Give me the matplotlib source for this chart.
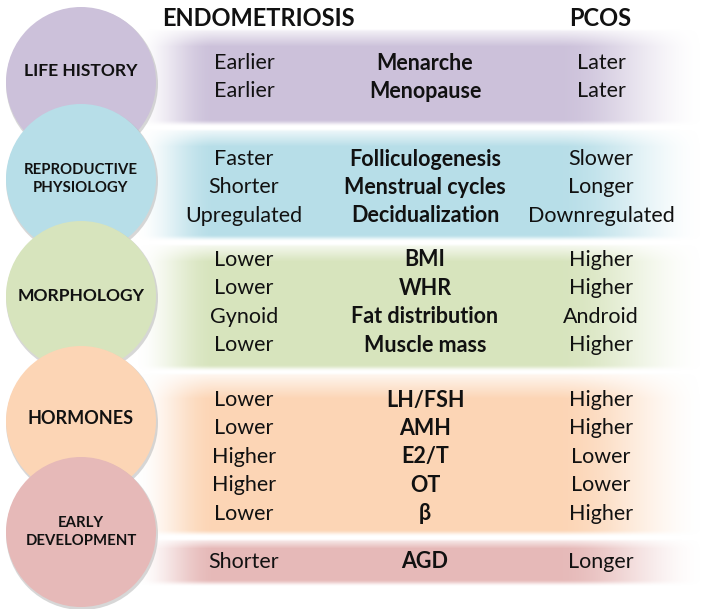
import numpy as np
import matplotlib
matplotlib.use("Agg")
import matplotlib.pyplot as plt
from matplotlib.patches import Circle

plt.rcParams['font.family'] = ['Lato', 'DejaVu Sans']

# data
groups = ["LIFE HISTORY", "REPRODUCTIVE\nPHYSIOLOGY", "MORPHOLOGY", "HORMONES", "EARLY\nDEVELOPMENT"]
traits = [
    ["Menarche", "Menopause"],
    ["Folliculogenesis", "Menstrual cycles", "Decidualization"],
    ["BMI", "WHR", "Fat distribution", "Muscle mass"],
    ["LH/FSH", "AMH", "E2/T", "OT", "β"],
    ["AGD"],
]
endo = [
    ["Earlier", "Earlier"],
    ["Faster", "Shorter", "Upregulated"],
    ["Lower", "Lower", "Gynoid", "Lower"],
    ["Lower", "Lower", "Higher", "Higher", "Lower"],
    ["Shorter"],
]
pcos = [
    ["Later", "Later"],
    ["Slower", "Longer", "Downregulated"],
    ["Higher", "Higher", "Android", "Higher"],
    ["Higher", "Higher", "Lower", "Lower", "Higher"],
    ["Longer"],
]
colors = ["#CCC1DA", "#B7DEE8", "#D7E4BD", "#FCD5B5", "#E6B9B8"]

# layout (pixels)
W, H = 709, 609
circle_y = [82, 179, 296, 421, 532]
label_y = [71, 179, 296, 418, 532]
label_size = [12.6, 10.7, 12.6, 13.0, 10.7]
circle_x, radius = 81, 75
bands = [(28, 126), (128, 241), (243, 371), (372, 536), (538, 586)]
band_fade_top = [18, 18, 18, 26, 10]
first_row = [63, 159, 260, 400, 562]
row_step = 28.4
col_endo, col_trait, col_pcos = 244, 425, 601

fig = plt.figure(figsize=(W / 100, H / 100), dpi=100)
ax = fig.add_axes([0, 0, 1, 1])


def ramp(t):
    t = np.clip(t, 0, 1)
    return t * t * (3 - 2 * t)


def band_image(y0, y1, color, top_fade, x0=135, x1=705):
    xs = np.arange(x0, x1)
    ys = np.arange(y0, y1)
    hx = ramp((xs - x0) / 80.0) * ramp((x1 - xs) / 150.0)
    vy = (0.15 + 0.85 * np.clip((ys - y0) / top_fade, 0, 1)) * ramp((ys - y0) / 3.0)
    vy = vy * ramp((y1 - ys) / 7.0)
    alpha = np.outer(vy, hx)
    rgb = np.array(matplotlib.colors.to_rgb(color))
    img = np.ones((len(ys), len(xs), 4))
    img[..., :3] = rgb
    img[..., 3] = alpha
    ax.imshow(img, extent=(x0, x1, y1, y0), origin='upper',
              interpolation='bilinear', zorder=1, aspect='auto')


for (y0, y1), c, tf in zip(bands, colors, band_fade_top):
    band_image(y0, y1, c, tf)

ax.set_xlim(0, W)
ax.set_ylim(H, 0)
ax.axis('off')

for i, (g, c) in enumerate(zip(groups, colors)):
    cy = circle_y[i]
    # soft shadow
    ax.add_patch(Circle((circle_x + 1, cy + 2), radius + 1, color='#b0b0b0',
                        alpha=0.5, zorder=2 + i * 2, lw=0))
    ax.add_patch(Circle((circle_x, cy), radius, color=c, zorder=3 + i * 2, lw=0))
    ax.text(circle_x, label_y[i], g, ha='center', va='center', fontsize=label_size[i],
            fontweight='bold', color='#111111', zorder=20, linespacing=1.3)

for i in range(len(groups)):
    for j in range(len(traits[i])):
        y = first_row[i] + j * row_step
        ax.text(col_endo, y, endo[i][j], ha='center', va='center',
                fontsize=15.5, color='#111111', zorder=20)
        ax.text(col_trait, y, traits[i][j], ha='center', va='center',
                fontsize=15.5, fontweight='bold', color='#111111', zorder=20)
        ax.text(col_pcos, y, pcos[i][j], ha='center', va='center',
                fontsize=15.5, color='#111111', zorder=20)

ax.text(258, 18, "ENDOMETRIOSIS", ha='center', va='center', fontsize=17,
        fontweight='bold', color='#111111')
ax.text(600, 18, "PCOS", ha='center', va='center', fontsize=17,
        fontweight='bold', color='#111111')

fig.savefig("out.png", dpi=100)
